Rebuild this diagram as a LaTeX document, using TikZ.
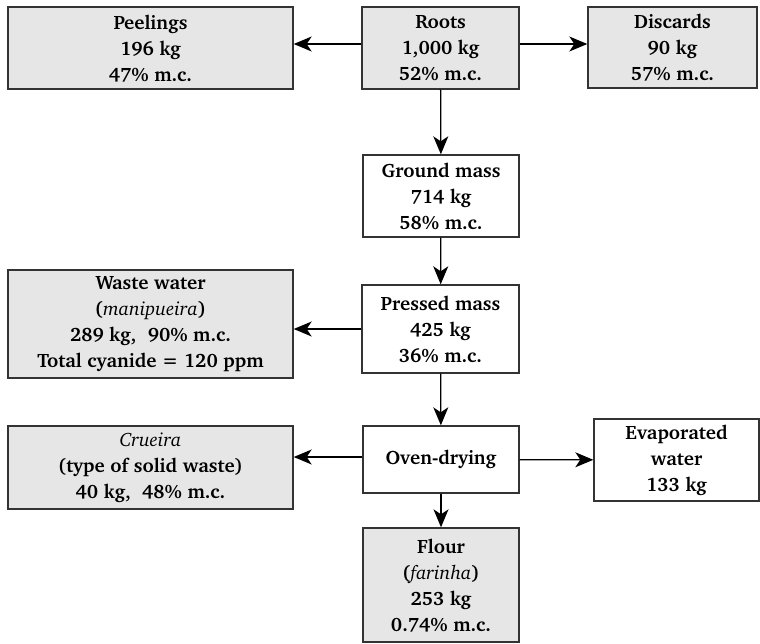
\documentclass[tikz,border=0pt]{standalone}
\usepackage[T1]{fontenc}
\usepackage{charter}
\usepackage{tikz}
\usetikzlibrary{arrows.meta,positioning}
\definecolor{FGray}{HTML}{E6E6E6}
\definecolor{FLine}{HTML}{333333}
\newcommand{\itname}[1]{\textmd{\textit{#1}}}

\begin{document}
\begin{tikzpicture}[
  x=0.5pt,y=-0.5pt,
  every node/.style={font=\fontsize{9.7}{13}\selectfont\bfseries},
  stream/.style={draw=FLine,fill=FGray,line width=0.7pt,align=center,
    inner sep=0pt},
  process/.style={draw=FLine,fill=white,line width=0.7pt,align=center,
    inner sep=0pt},
  flow/.style={-{Stealth[length=9pt,width=7.5pt,inset=2.5pt]},line width=0.65pt,color=black}
]
  \useasboundingbox (0,0) rectangle (760,643);
  \node[stream,minimum width=142.5pt,minimum height=41pt] (peel) at (150.5,48)
    {Peelings\\196 kg\\47\% m.c.};
  \node[stream,minimum width=78.5pt,minimum height=41pt] (roots) at (440.5,48)
    {Roots\\1,000 kg\\52\% m.c.};
  \node[stream,minimum width=84.5pt,minimum height=40.5pt] (disc) at (672.5,47.5)
    {Discards\\90 kg\\57\% m.c.};
  \node[process,minimum width=78pt,minimum height=41pt] (ground) at (441,196)
    {Ground mass\\714 kg\\58\% m.c.};
  \node[process,minimum width=78.5pt,minimum height=44pt] (press) at (440.5,329)
    {Pressed mass\\425 kg\\36\% m.c.};
  \node[stream,minimum width=142.5pt,minimum height=54pt] (waste) at (150.5,324)
    {Waste water\\(\itname{manipueira})\\289 kg,\ \ 90\% m.c.\\Total cyanide = 120 ppm};
  \node[process,minimum width=78pt,minimum height=33.5pt] (oven) at (441,459.5)
    {Oven-drying};
  \node[stream,minimum width=142.5pt,minimum height=41.5pt] (crue) at (150.5,467.5)
    {\itname{Crueira}\\(type of solid waste)\\40 kg,\ \ 48\% m.c.};
  \node[process,minimum width=82.5pt,minimum height=41pt] (evap) at (676.5,460)
    {Evaporated\\water\\133 kg};
  \node[stream,minimum width=78pt,minimum height=57pt] (flour) at (441,585)
    {Flour\\(\itname{farinha})\\253 kg\\0.74\% m.c.};

  \draw[flow] (roots.west |- 0,44) -- (peel.east |- 0,44);
  \draw[flow] (roots.east |- 0,44) -- (disc.west |- 0,44);
  \draw[flow] (roots) -- (ground);
  \draw[flow] (ground) -- (press);
  \draw[flow] (press) -- (waste.east |- press);
  \draw[flow] (press) -- (oven);
  \draw[flow] (oven.west |- 0,457) -- (crue.east |- 0,457);
  \draw[flow] (oven) -- (evap);
  \draw[flow] (oven) -- (flour);
\end{tikzpicture}
\end{document}
